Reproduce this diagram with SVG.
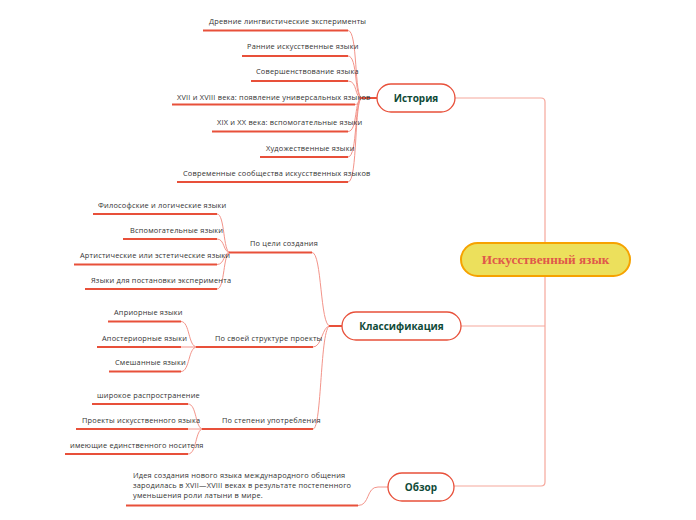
<svg xmlns="http://www.w3.org/2000/svg" width="696" height="520" viewBox="0 0 696 520">
<style>
.t{font-family:"Open Sans","Noto Sans",sans-serif;font-size:7.4px;letter-spacing:0.2px;fill:#333}
.ul{stroke:#e8503a;stroke-width:2;fill:none}
.c{stroke:#f3948a;stroke-width:1;fill:none}
.cb{stroke:#e8503a;stroke-width:2;fill:none}
.tr{stroke:#f6a79c;stroke-width:1.2;fill:none}
.n{fill:#fff;stroke:#e8503a;stroke-width:1.3}
.nt{font-family:"Open Sans","Noto Sans",sans-serif;font-size:10px;font-weight:bold;fill:#0f4a37;text-anchor:middle}
</style>
<rect width="696" height="520" fill="#fff"/>
<g id="connectors">
<path class="tr" d="M455,98 H541 Q545,98 545,102 V482 Q545,486 541,486 H454"/>
<path class="tr" d="M461,326 H545"/>
<path class="c" d="M348,30.5 C358,30.5 354,98 362,98"/>
<path class="c" d="M348,56 C358,56 354,98 362,98"/>
<path class="c" d="M348,81 C358,81 354,98 362,98"/>
<path class="c" d="M355,104.5 C360,104.5 358,98 362,98"/>
<path class="c" d="M348,131.5 C358,131.5 354,98 362,98"/>
<path class="c" d="M348,157 C358,157 354,98 362,98"/>
<path class="c" d="M348,182 C358,182 354,98 362,98"/>
<path class="cb" d="M360,98 H378"/>
<path class="c" d="M312,252.5 C322,252.5 320,326 330,326"/>
<path class="c" d="M313,347 C322,347 322,326 330,326"/>
<path class="c" d="M313,429 C322,429 320,326 330,326"/>
<path class="cb" d="M329,326 H342"/>
<path class="c" d="M217,214 C225,214 223,252.5 230,252.5"/>
<path class="c" d="M217,239 C225,239 223,252.5 230,252.5"/>
<path class="c" d="M217,264.5 C225,264.5 223,252.5 230,252.5"/>
<path class="c" d="M217,289 C225,289 223,252.5 230,252.5"/>
<path class="cb" d="M229,252.5 H243"/>
<path class="c" d="M181,321.5 C190,321.5 188,347 197,347"/>
<path class="c" d="M181,347 H197"/>
<path class="c" d="M181,371.5 C190,371.5 188,347 197,347"/>
<path class="cb" d="M196,347 H210"/>
<path class="c" d="M188,404 C197,404 195,429 203,429"/>
<path class="c" d="M188,429 H203"/>
<path class="c" d="M188,454 C197,454 195,429 203,429"/>
<path class="cb" d="M202,429 H217"/>
<path class="c" d="M358,505.5 C370,505.5 366,487 378,487 H388"/>
</g>
<g id="center">
<rect x="461" y="243" width="169" height="33" rx="16.5" fill="#ece05c" stroke="#f6a200" stroke-width="2"/>
<text x="545.5" y="264" text-anchor="middle" font-family="'Liberation Serif',serif" font-size="13.2" font-weight="bold" fill="#e0584a">Искусственный язык</text>
</g>
<g id="history">
<rect class="n" x="377" y="84" width="78" height="28" rx="14"/>
<text class="nt" x="416" y="101.5">История</text>
</g>
<g id="classification">
<rect class="n" x="342" y="312" width="119" height="28" rx="14"/>
<text class="nt" x="401.5" y="329.5">Классификация</text>
</g>
<g id="overview">
<rect class="n" x="388" y="473" width="66" height="28" rx="14"/>
<text class="nt" x="421" y="490.5">Обзор</text>
</g>
<g id="h1"><path class="ul" d="M203,30.5 H348"/><text class="t" x="209" y="23.5">Древние лингвистические эксперименты</text></g>
<g id="h2"><path class="ul" d="M242,56 H348"/><text class="t" x="247" y="49">Ранние искусственные языки</text></g>
<g id="h3"><path class="ul" d="M251,81 H348"/><text class="t" x="256" y="74">Совершенствование языка</text></g>
<g id="h4"><path class="ul" d="M172,104.5 H355"/><text class="t" x="177" y="99.5">XVII и XVIII века: появление универсальных языков</text></g>
<g id="h5"><path class="ul" d="M212,131.5 H348"/><text class="t" x="217" y="124.5">XIX и XX века: вспомогательные языки</text></g>
<g id="h6"><path class="ul" d="M260,157 H348"/><text class="t" x="266" y="150.5">Художественные языки</text></g>
<g id="h7"><path class="ul" d="M177,182 H348"/><text class="t" x="183" y="175.5">Современные сообщества искусственных языков</text></g>
<g id="k1"><path class="ul" d="M243,252.5 H312"/><text class="t" x="250" y="245.5">По цели создания</text></g>
<g id="k2"><path class="ul" d="M210,347 H313"/><text class="t" x="215" y="340.5">По своей структуре проекты</text></g>
<g id="k3"><path class="ul" d="M217,429 H313"/><text class="t" x="222" y="423">По степени употребления</text></g>
<g id="p1"><path class="ul" d="M93,214 H217"/><text class="t" x="98" y="208">Философские и логические языки</text></g>
<g id="p2"><path class="ul" d="M123,239 H217"/><text class="t" x="130" y="233">Вспомогательные языки</text></g>
<g id="p3"><path class="ul" d="M74,264.5 H217"/><text class="t" x="80" y="257.5">Артистические или эстетические языки</text></g>
<g id="p4"><path class="ul" d="M85,289 H217"/><text class="t" x="91" y="283">Языки для постановки эксперимента</text></g>
<g id="s1"><path class="ul" d="M108,321.5 H181"/><text class="t" x="114" y="314.5">Априорные языки</text></g>
<g id="s2"><path class="ul" d="M97,347 H181"/><text class="t" x="102" y="340.5">Апостериорные языки</text></g>
<g id="s3"><path class="ul" d="M109,371.5 H181"/><text class="t" x="115" y="365">Смешанные языки</text></g>
<g id="u1"><path class="ul" d="M92,404 H188"/><text class="t" x="97" y="397.5">широкое распространение</text></g>
<g id="u2"><path class="ul" d="M76,429 H188"/><text class="t" x="82" y="423">Проекты искусственного языка</text></g>
<g id="u3"><path class="ul" d="M65,454 H188"/><text class="t" x="70" y="447.5">имеющие единственного носителя</text></g>
<g id="o1"><path class="ul" d="M126,505.5 H358"/>
<text class="t" x="133" y="478">Идея создания нового языка международного общения</text>
<text class="t" x="133" y="488">зародилась в XVII—XVIII веках в результате постепенного</text>
<text class="t" x="133" y="498">уменьшения роли латыни в мире.</text></g>
</svg>
